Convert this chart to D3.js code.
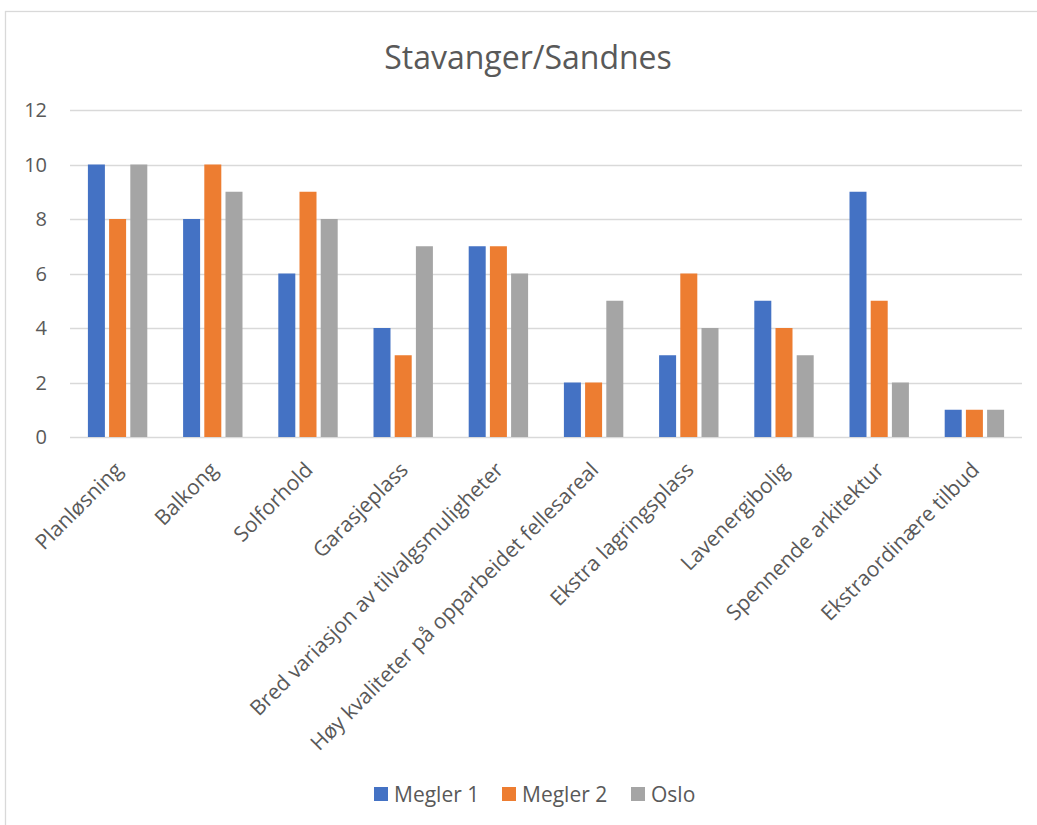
<!DOCTYPE html>
<html><head><meta charset="utf-8">
<script src="https://cdn.jsdelivr.net/npm/d3@7"></script>
<style>body{margin:0;background:#fff}</style>
</head><body><svg id="c" width="1037" height="825"></svg>
<script>
const categories = ["Planløsning","Balkong","Solforhold","Garasjeplass","Bred variasjon av tilvalgsmuligheter","Høy kvaliteter på opparbeidet fellesareal","Ekstra lagringsplass","Lavenergibolig","Spennende arkitektur","Ekstraordinære tilbud"];
const seriesNames = ["Megler 1","Megler 2","Oslo"];
const megler1 = [10,8,6,4,7,2,3,5,9,1];
const megler2 = [8,10,9,3,7,2,6,4,5,1];
const oslo = [10,9,8,7,6,5,4,3,2,1];
const yTicks = [0,2,4,6,8,10,12];
const colors = ["#4472C4","#ED7D31","#A5A5A5"];
const seriesValues = [megler1, megler2, oslo];

(function(){
const svg = d3.select("#c");
const font = "'Open Sans', 'Noto Sans', sans-serif";
const txt = "#595959";

svg.append("rect").attr("x",5.5).attr("y",11.5).attr("width",1040).attr("height",830)
  .attr("fill","#fff").attr("stroke","#D9D9D9").attr("stroke-width",1.3);

const pL=70, pR=1022, pT=110, pB=437;
const x0 = d3.scaleBand().domain(categories).range([pL,pR]).paddingInner(0).paddingOuter(0);
const y = d3.scaleLinear().domain([0,12]).range([pB,pT]);

svg.append("g").selectAll("line").data(yTicks).join("line")
  .attr("x1",pL).attr("x2",pR)
  .attr("y1",d=>Math.round(y(d))+0.5).attr("y2",d=>Math.round(y(d))+0.5)
  .attr("stroke","#D9D9D9").attr("stroke-width",1.3);

svg.append("g").selectAll("text").data(yTicks).join("text")
  .attr("x",47).attr("y",d=>y(d)).attr("dy","0.36em")
  .attr("text-anchor","end").attr("font-family",font).attr("font-size",20)
  .attr("fill",txt).text(d=>d);

const bw = 17, step = 21.2;
const x1 = d3.scaleBand().domain(seriesNames).range([0, step*3]).paddingInner(0);
const groups = svg.append("g").selectAll("g").data(categories).join("g")
  .attr("transform",(d)=>`translate(${x0(d)+x0.bandwidth()/2 - (step*2+bw)/2},0)`);
groups.selectAll("rect").data((d,i)=>seriesNames.map((s,j)=>({s,j,v:seriesValues[j][i]}))).join("rect")
  .attr("x",d=>x1(d.s)).attr("width",bw)
  .attr("y",d=>y(d.v)).attr("height",d=>y(0)-y(d.v))
  .attr("fill",d=>colors[d.j]);

svg.append("g").selectAll("text").data(categories).join("text")
  .attr("transform",d=>`translate(${x0(d)+x0.bandwidth()/2+1},${pB+29}) rotate(-45)`)
  .attr("text-anchor","end").attr("dy","0.35em")
  .attr("font-family",font).attr("font-size",21).attr("fill",txt).text(d=>d);

svg.append("text").attr("x",528).attr("y",69).attr("text-anchor","middle")
  .attr("font-family",font).attr("font-size",32).attr("fill",txt).text("Stavanger/Sandnes");

const legX = [374, 502, 631];
const lg = svg.append("g").selectAll("g").data(seriesNames).join("g")
  .attr("transform",(d,i)=>`translate(${legX[i]},787)`);
lg.append("rect").attr("width",14).attr("height",14).attr("fill",(d,i)=>colors[i]);
lg.append("text").attr("x",20).attr("y",15).attr("font-family",font).attr("font-size",21)
  .attr("fill",txt).text(d=>d);
})();
</script></body></html>
